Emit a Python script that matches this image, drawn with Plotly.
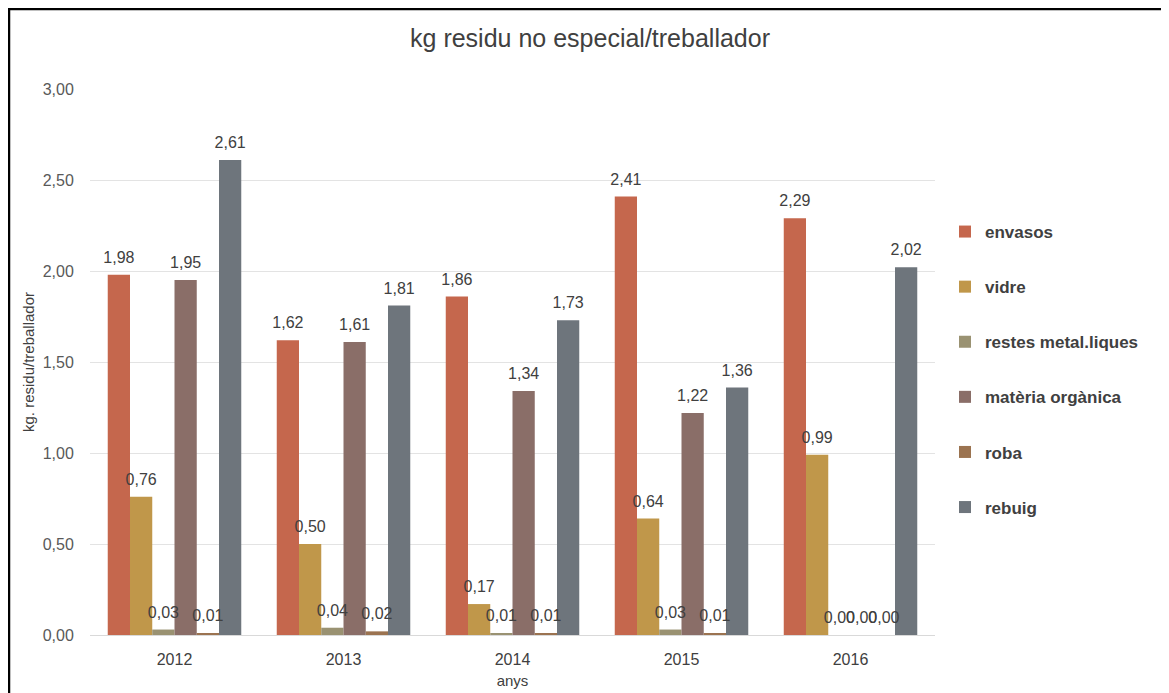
import plotly.graph_objects as go

years = ["2012", "2013", "2014", "2015", "2016"]
series_names = ["envasos", "vidre", "restes metal.liques", "matèria orgànica", "roba", "rebuig"]
envasos = [1.98, 1.62, 1.86, 2.41, 2.29]
vidre = [0.76, 0.50, 0.17, 0.64, 0.99]
restes = [0.03, 0.04, 0.01, 0.03, 0.00]
materia = [1.95, 1.61, 1.34, 1.22, 0.00]
roba = [0.01, 0.02, 0.01, 0.01, 0.00]
rebuig = [2.61, 1.81, 1.73, 1.36, 2.02]
colors = ["#C5674D", "#C0974A", "#9A9272", "#8A6E68", "#9B7350", "#6E757C"]

values = [envasos, vidre, restes, materia, roba, rebuig]

W, H = 1169, 693
L, T, B = 82, 81, 66
pw = 845
R = W - L - pw
ph = H - T - B

NUM_FONT = "Liberation Sans, Arial, sans-serif"
COND_FONT = "Liberation Sans Narrow, Arial Narrow, Liberation Sans, sans-serif"
GAP = 0.21

fig = go.Figure()
for i, (name, vals) in enumerate(zip(series_names, values)):
    fig.add_trace(go.Bar(
        x=years, y=vals, name=name,
        marker=dict(color=colors[i], line=dict(width=0)),
        offsetgroup=str(i), legendgroup=f"g{i}",
    ))
for i, (name, vals) in enumerate(zip(series_names, values)):
    fig.add_trace(go.Scatter(
        x=years, y=vals, name=name + " labels",
        mode="markers+text", text=[f"{v:.2f}".replace(".", ",") for v in vals],
        textposition="top center",
        textfont=dict(family=NUM_FONT, size=16, color="#404040"),
        marker=dict(size=11, opacity=0, color=colors[i]),
        offsetgroup=str(i), showlegend=False, hoverinfo="skip", cliponaxis=False,
    ))

fig.update_layout(
    width=W, height=H,
    margin=dict(l=L, r=R, t=T, b=B, autoexpand=False),
    paper_bgcolor="white", plot_bgcolor="white",
    separators=",.",
    barmode="group", bargap=GAP, bargroupgap=0,
    scattermode="group", scattergap=GAP,
    title=dict(text="kg residu no especial/treballador", x=582 / W, xanchor="center",
               y=1 - 30 / H, yanchor="middle",
               font=dict(family=NUM_FONT, size=25, color="#404040")),
    legend=dict(x=(937 - L) / pw, xanchor="left", y=1 - (206 - T) / ph, yanchor="top",
                tracegroupgap=30, itemwidth=30,
                font=dict(family=COND_FONT, size=17, color="#404040", weight="bold")),
    xaxis=dict(title=dict(text="anys", standoff=8,
                          font=dict(family=NUM_FONT, size=15, color="#404040")),
               tickfont=dict(family=NUM_FONT, size=16, color="#404040"),
               ticklabelstandoff=10,
               showline=True, linecolor="#D9D9D9", linewidth=1, ticks=""),
    yaxis=dict(title=dict(text="kg. residu/treballador", standoff=4,
                          font=dict(family=NUM_FONT, size=15, color="#404040")),
               range=[0, 3], dtick=0.5, tickformat=".2f",
               tickfont=dict(family=NUM_FONT, size=16, color="#595959"),
               gridcolor="#E3E3E3", gridwidth=1, zeroline=False, ticks="outside",
               ticklen=12, tickcolor="white"),
)

# outer frame (partially visible, like the reference screenshot)
fig.add_shape(type="rect", xref="paper", yref="paper",
              x0=(1 - L) / pw, x1=(W + 30 - L) / pw,
              y0=1 - (H + 30 - T) / ph, y1=1 + (T - 1) / ph,
              line=dict(color="black", width=2.5), fillcolor="rgba(0,0,0,0)", layer="above")

fig.write_html("out.html")
